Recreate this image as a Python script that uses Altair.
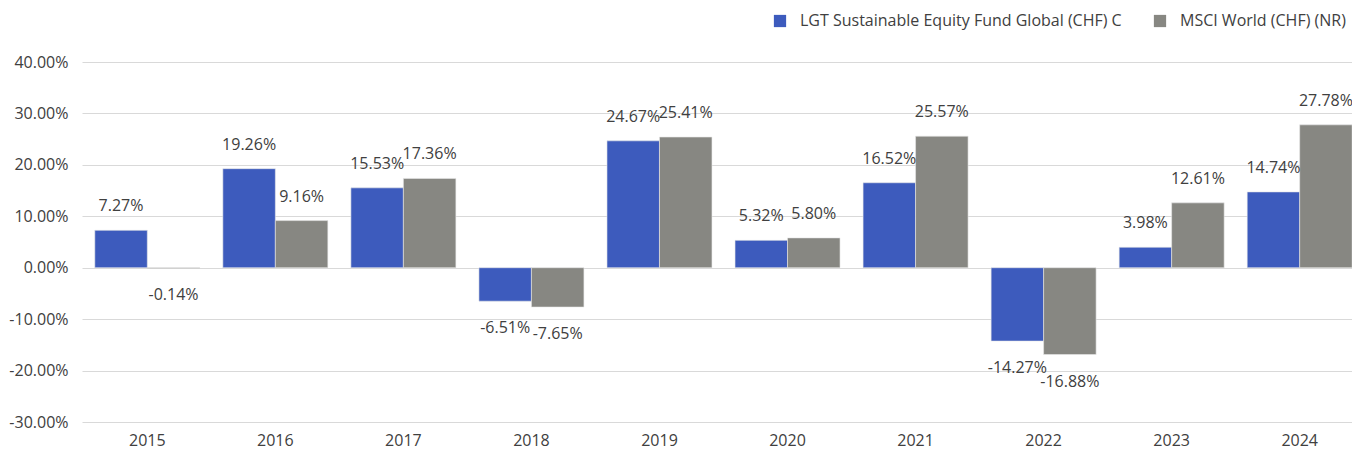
import altair as alt
import pandas as pd

years = ["2015", "2016", "2017", "2018", "2019", "2020", "2021", "2022", "2023", "2024"]
fund = [7.27, 19.26, 15.53, -6.51, 24.67, 5.32, 16.52, -14.27, 3.98, 14.74]
msci = [-0.14, 9.16, 17.36, -7.65, 25.41, 5.80, 25.57, -16.88, 12.61, 27.78]
series_names = ["LGT Sustainable Equity Fund Global (CHF) C", "MSCI World (CHF) (NR)"]
colors = ["#3d5bbd", "#878782"]
y_ticks = [-30, -20, -10, 0, 10, 20, 30, 40]

rows = []
for i, y in enumerate(years):
    rows.append({"year": y, "series": series_names[0], "value": fund[i]})
    rows.append({"year": y, "series": series_names[1], "value": msci[i]})
df = pd.DataFrame(rows)

FONT = "Open Sans"
TXT = "#404040"
FMT = "replace(format(datum.value, '.2f'), '\u2212', '-') + '%'"

x_enc = alt.X("year:N", sort=years, title=None,
              scale=alt.Scale(paddingInner=0.18, paddingOuter=0.1, range=[0, 1283]),
              axis=alt.Axis(labelAngle=0, ticks=False, domain=False, grid=False, labelPadding=10,
                            labelFontSize=16, labelColor=TXT, labelFont=FONT))
y_enc = alt.Y("value:Q", title=None,
              scale=alt.Scale(domain=[-30, 40], nice=False),
              axis=alt.Axis(values=y_ticks, labelExpr=FMT,
                            domain=False, ticks=False, labelPadding=14, grid=True,
                            gridColor="#d9d9d9", gridWidth=1,
                            labelFontSize=16, labelColor=TXT, labelFont=FONT))
xo = alt.XOffset("series:N", sort=series_names, scale=alt.Scale(paddingInner=0, paddingOuter=0))

base = alt.Chart(df)

bars = base.mark_bar(stroke="#e8e8e8", strokeWidth=0.6).encode(
    x=x_enc, xOffset=xo, y=y_enc,
    color=alt.Color("series:N", sort=series_names,
                    scale=alt.Scale(domain=series_names, range=colors),
                    legend=alt.Legend(title=None, orient="none", direction="horizontal",
                                      legendX=690, legendY=-49,
                                      symbolType="square", symbolSize=150,
                                      symbolStrokeWidth=0, symbolOpacity=1,
                                      labelFontSize=16, labelColor=TXT, labelFont=FONT,
                                      labelLimit=600, labelOffset=12, columnPadding=30)),
)

pos_text = base.transform_filter("datum.value >= 0").transform_calculate(
    lab=FMT).mark_text(baseline="middle", dy=-24, fontSize=16, font=FONT, color=TXT).encode(
    x=alt.X("year:N", sort=years), xOffset=xo, y=alt.Y("value:Q"), text="lab:N")
neg_text = base.transform_filter("datum.value < 0").transform_calculate(
    lab=FMT).mark_text(baseline="middle", dy=27, fontSize=16, font=FONT, color=TXT).encode(
    x=alt.X("year:N", sort=years), xOffset=xo, y=alt.Y("value:Q"), text="lab:N")

chart = alt.layer(bars, pos_text, neg_text).properties(
    width=1270, height=360,
    autosize=alt.AutoSizeParams(type="none"),
    padding={"left": 74, "top": 54, "right": 0, "bottom": 31},
    background="white",
).configure_view(stroke=None)

chart.save("out.html", embed_options={"renderer": "svg", "actions": False})
